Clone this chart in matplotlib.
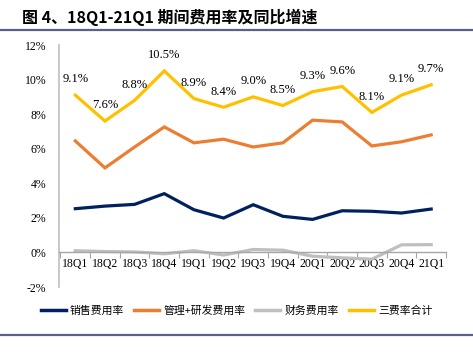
import matplotlib
matplotlib.use("Agg")
import matplotlib.pyplot as plt
from matplotlib.lines import Line2D

quarters = ["18Q1","18Q2","18Q3","18Q4","19Q1","19Q2","19Q3","19Q4","20Q1","20Q2","20Q3","20Q4","21Q1"]
sales = [2.53,2.68,2.78,3.40,2.47,1.99,2.76,2.09,1.91,2.41,2.38,2.28,2.51]
admin_rd = [6.45,4.89,6.10,7.26,6.34,6.55,6.10,6.34,7.65,7.55,6.16,6.40,6.80]
finance = [0.10,0.05,0.03,-0.08,0.10,-0.15,0.17,0.13,-0.22,-0.31,-0.39,0.44,0.45]
total = [9.1,7.6,8.8,10.5,8.9,8.4,9.0,8.5,9.3,9.6,8.1,9.1,9.7]
names = ["销售费用率","管理+研发费用率","财务费用率","三费率合计"]
colors = ["#002060","#ED7D31","#BFBFBF","#FFC000"]
title = "图 4、18Q1-21Q1 期间费用率及同比增速"

serif = ["Liberation Serif","DejaVu Serif"]
cjk = ["Noto Sans CJK SC","DejaVu Sans"]

fig = plt.figure(figsize=(4.73,3.6), dpi=100)
ax = fig.add_axes([59/473, 1-287/360, (446-59)/473, (287-45)/360])

x = list(range(len(quarters)))
for vals, c in zip([sales, admin_rd, finance, total], colors):
    ax.plot(x, vals, color=c, lw=2.3, solid_joinstyle="miter")

for xi, v in zip(x, total):
    ax.annotate(f"{v:.1f}%", (xi, v), xytext=(0, 7), textcoords="offset points",
                ha="center", va="bottom", fontsize=9, family=serif)

ax.set_xlim(-0.55, 12.5)
ax.set_ylim(-2, 12)
ax.set_yticks(range(-2, 13, 2))
ax.set_yticklabels([f"{v}%" for v in range(-2, 13, 2)], family=serif, fontsize=8.5)
ax.tick_params(axis="y", length=0, pad=9)

ax.spines["top"].set_visible(False)
ax.spines["right"].set_visible(False)
ax.spines["left"].set_color("#BFBFBF")
ax.spines["left"].set_linewidth(1.2)
ax.spines["bottom"].set_position(("data", 0))
ax.spines["bottom"].set_color("#A6A6A6")
ax.spines["bottom"].set_linewidth(1.0)

ax.set_xticks([i + 0.5 for i in range(-1, 13)])
ax.set_xticklabels([])
ax.tick_params(axis="x", which="major", length=4, color="#A6A6A6", direction="out")
ax.set_xticks(x, minor=True)
ax.set_xticklabels(quarters, minor=True, family=serif, fontsize=8.5)
ax.tick_params(axis="x", which="minor", length=0, pad=4)

fig.text(22/473, 1-17/360, title, fontsize=11.5, fontweight="bold", family=cjk, va="center", ha="left")
fig.add_artist(Line2D([0, 1], [1-30/360, 1-30/360], color="#5B5F8A", lw=1.6, transform=fig.transFigure))
fig.add_artist(Line2D([0, 1], [1-335/360, 1-335/360], color="#5B5F8A", lw=1.6, transform=fig.transFigure))

handles = [Line2D([], [], color=c, lw=2.5) for c in colors]
fig.legend(handles, names, loc="center", bbox_to_anchor=(0.5, 1-311/360), ncol=4, frameon=False,
           prop={"family": cjk, "size": 7.8}, handlelength=2.3, handletextpad=0.4, columnspacing=0.9)

fig.savefig("out.png", dpi=100)
